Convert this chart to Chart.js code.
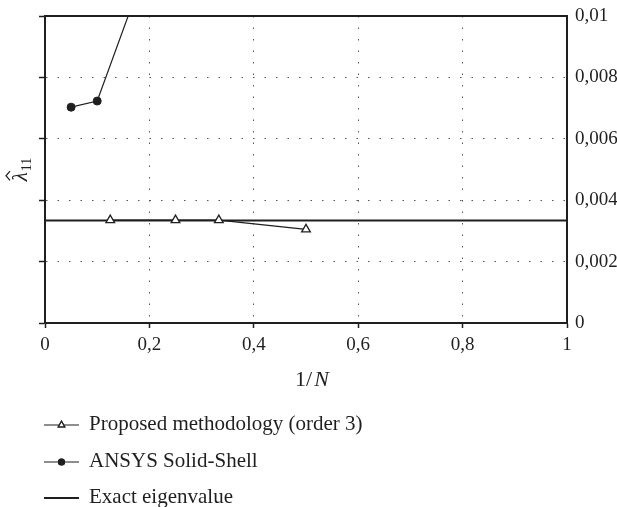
<!DOCTYPE html>
<html>
<head>
<meta charset="utf-8">
<script src="https://cdn.jsdelivr.net/npm/chart.js@4.4.0/dist/chart.umd.min.js"></script>
<style>
  html, body { margin: 0; padding: 0; background: #fff; }
  canvas { display: block; }
</style>
</head>
<body>
<canvas id="chart" width="617" height="507"></canvas>
<script>
// values
const proposedX = [0.125, 0.25, 0.333, 0.5];
const proposedY = [0.00335, 0.00335, 0.00335, 0.00305];
const ansysX = [0.05, 0.1, 0.2];
const ansysY = [0.00703, 0.00723, 0.0119];
const exactX = [0, 1];
const exactY = [0.00334, 0.00334];
const seriesNames = ['Proposed methodology (order 3)', 'ANSYS Solid-Shell', 'Exact eigenvalue'];
const xTicks = [0, 0.2, 0.4, 0.6, 0.8, 1];
const yTicks = [0, 0.002, 0.004, 0.006, 0.008, 0.01];

const SERIF = '"Liberation Serif", "DejaVu Serif", serif';
const INK = '#1f1f1f';

function toPoints(xs, ys) {
  return xs.map((x, i) => ({ x: x, y: ys[i] }));
}

function commaLabel(v) {
  return String(Number(v.toFixed(4))).replace('.', ',');
}

// dotted grid, but not on the frame edges
function gridColor(ctx, lo, hi) {
  const v = ctx.tick ? ctx.tick.value : null;
  if (v === null || Math.abs(v - lo) < 1e-9 || Math.abs(v - hi) < 1e-9) return 'rgba(0,0,0,0)';
  return '#555';
}

// axis titles, top frame line and the stacked legend
const extras = {
  id: 'extras',
  afterDraw(chart) {
    const ctx = chart.ctx;
    const a = chart.chartArea;
    ctx.save();

    // top of frame
    ctx.strokeStyle = INK;
    ctx.lineWidth = 2;
    ctx.beginPath();
    ctx.moveTo(a.left - 1, a.top);
    ctx.lineTo(a.right + 1, a.top);
    ctx.stroke();

    // x title: 1/N
    ctx.fillStyle = INK;
    ctx.textBaseline = 'middle';
    ctx.font = '22px ' + SERIF;
    const p1 = '1/';
    const w1 = ctx.measureText(p1).width;
    ctx.font = 'italic 22px ' + SERIF;
    const w2 = ctx.measureText('N').width;
    const cx = (a.left + a.right) / 2 + 6;
    const x0 = cx - (w1 + w2 + 2) / 2;
    ctx.font = '22px ' + SERIF;
    ctx.textAlign = 'left';
    ctx.fillText(p1, x0, 380);
    ctx.font = 'italic 22px ' + SERIF;
    ctx.fillText('N', x0 + w1 + 2, 380);

    // y title: lambda hat 11, rotated
    ctx.save();
    ctx.translate(20, 170);
    ctx.rotate(-Math.PI / 2);
    ctx.font = 'italic 21px ' + SERIF;
    const wl = ctx.measureText('λ').width;
    ctx.font = '14px ' + SERIF;
    const ws = ctx.measureText('11').width;
    const sx = -(wl + ws) / 2;
    ctx.font = 'italic 21px ' + SERIF;
    ctx.textBaseline = 'alphabetic';
    ctx.fillText('λ', sx, 7);
    ctx.font = '14px ' + SERIF;
    ctx.fillText('11', sx + wl + 1, 11);
    // hat
    ctx.lineWidth = 1.2;
    ctx.beginPath();
    ctx.moveTo(sx + 1, -10);
    ctx.lineTo(sx + wl / 2 + 1, -14);
    ctx.lineTo(sx + wl + 1, -10);
    ctx.stroke();
    ctx.restore();

    // legend
    const rows = [425, 462, 498];
    chart.data.datasets.forEach((ds, i) => {
      const y = rows[i];
      ctx.strokeStyle = INK;
      ctx.lineWidth = ds.borderWidth;
      ctx.beginPath();
      ctx.moveTo(44, y);
      ctx.lineTo(79, y);
      ctx.stroke();
      if (ds.pointRadius > 0) {
        Chart.helpers.drawPoint(ctx, {
          pointStyle: ds.pointStyle,
          radius: ds.pointRadius * 0.75,
          borderWidth: 1
        }, 61.5, y);
        ctx.fillStyle = ds.pointBackgroundColor;
        ctx.strokeStyle = ds.pointBorderColor;
        ctx.fill();
        ctx.stroke();
      }
      ctx.fillStyle = INK;
      ctx.font = '21px ' + SERIF;
      ctx.textAlign = 'left';
      ctx.textBaseline = 'middle';
      ctx.fillText(ds.label, 89, y - 1);
    });
    ctx.restore();
  }
};

new Chart(document.getElementById('chart').getContext('2d'), {
  type: 'scatter',
  data: {
    datasets: [
      {
        label: seriesNames[0],
        data: toPoints(proposedX, proposedY),
        showLine: true,
        borderColor: INK,
        borderWidth: 1.2,
        pointStyle: 'triangle',
        pointRadius: 5,
        pointBorderWidth: 1.3,
        pointBackgroundColor: '#fff',
        pointBorderColor: INK
      },
      {
        label: seriesNames[1],
        data: toPoints(ansysX, ansysY),
        showLine: true,
        borderColor: INK,
        borderWidth: 1.2,
        pointStyle: 'circle',
        pointRadius: 4,
        pointBorderWidth: 1,
        pointBackgroundColor: INK,
        pointBorderColor: INK
      },
      {
        label: seriesNames[2],
        data: toPoints(exactX, exactY),
        showLine: true,
        borderColor: INK,
        borderWidth: 2,
        pointRadius: 0
      }
    ]
  },
  options: {
    responsive: false,
    animation: false,
    layout: { padding: { left: 0, right: 0, top: 16, bottom: 154 } },
    plugins: {
      legend: { display: false },
      tooltip: { enabled: false }
    },
    scales: {
      x: {
        type: 'linear',
        min: 0,
        max: 1,
        afterBuildTicks: axis => { axis.ticks = xTicks.map(v => ({ value: v })); },
        afterFit: axis => { axis.height = 30; axis.paddingLeft = 0; axis.paddingRight = 0; },
        ticks: {
          callback: v => commaLabel(v),
          color: INK,
          padding: 6,
          maxRotation: 0,
          font: { family: SERIF, size: 19 }
        },
        grid: {
          color: c => gridColor(c, 0, 1),
          lineWidth: 1,
          drawTicks: true,
          tickLength: 5,
          tickColor: INK,
          tickWidth: 1.5,
          tickBorderDash: []
        },
        border: { display: true, color: INK, width: 2, dash: [1.5, 10] }
      },
      y: {
        type: 'linear',
        position: 'left',
        min: 0,
        max: 0.01,
        afterBuildTicks: axis => { axis.ticks = yTicks.map(v => ({ value: v })); },
        afterFit: axis => { axis.width = 45; axis.paddingTop = 0; axis.paddingBottom = 0; },
        ticks: { display: false },
        grid: {
          color: c => gridColor(c, 0, 0.01),
          lineWidth: 1,
          drawTicks: true,
          tickLength: 6,
          tickColor: INK,
          tickWidth: 1.5,
          tickBorderDash: []
        },
        border: { display: true, color: INK, width: 2, dash: [1.5, 10] }
      },
      y2: {
        type: 'linear',
        position: 'right',
        min: 0,
        max: 0.01,
        afterBuildTicks: axis => { axis.ticks = yTicks.map(v => ({ value: v })); },
        afterFit: axis => { axis.width = 50; axis.paddingTop = 0; axis.paddingBottom = 0; },
        ticks: {
          callback: v => commaLabel(v),
          color: INK,
          padding: 8,
          font: { family: SERIF, size: 19 }
        },
        grid: { drawOnChartArea: false, drawTicks: false },
        border: { display: true, color: INK, width: 2 }
      }
    }
  },
  plugins: [extras]
});
</script>
</body>
</html>
